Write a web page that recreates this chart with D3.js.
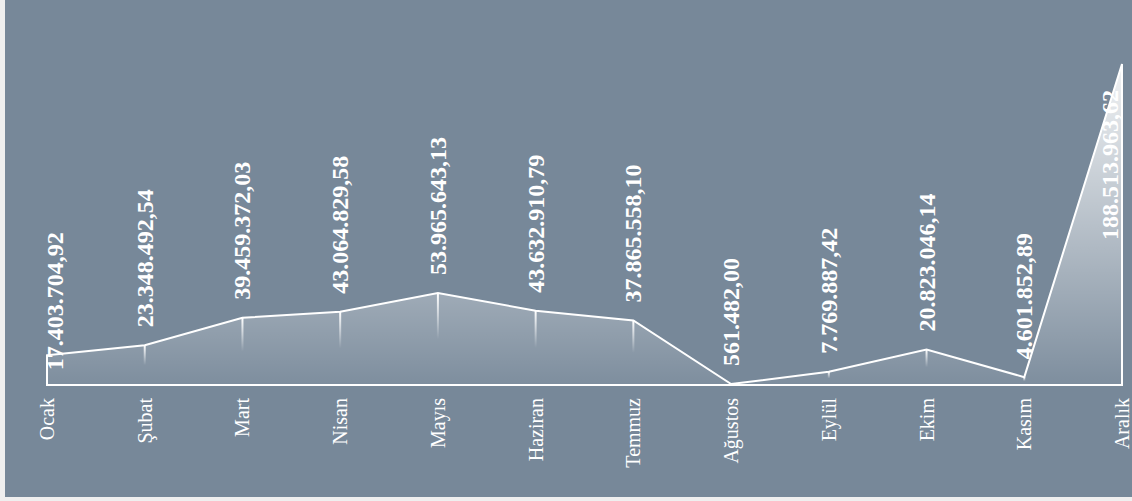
<!DOCTYPE html>
<html>
<head>
<meta charset="utf-8">
<script src="https://cdn.jsdelivr.net/npm/d3@7"></script>
<style>
  body { margin: 0; background: #efefef; }
</style>
</head>
<body>
<div id="chart"></div>
<script>
const months = ['Ocak', 'Şubat', 'Mart', 'Nisan', 'Mayıs', 'Haziran', 'Temmuz', 'Ağustos', 'Eylül', 'Ekim', 'Kasım', 'Aralık']
const values = [17403704.92, 23348492.54, 39459372.03, 43064829.58, 53965643.13, 43632910.79, 37865558.10, 561482.00, 7769887.42, 20823046.14, 4601852.89, 188513963.62]

const width = 1132
const height = 501
const margin = { top: 64, left: 47, right: 10, bottom: 116 }

const fmt = d3.formatLocale({ decimal: ',', thousands: '.', grouping: [3], currency: ['', ''] }).format(',.2f')

const svg = d3.select('#chart')
  .append('svg')
  .attr('width', width)
  .attr('height', height)

svg.append('rect')
  .attr('x', 5)
  .attr('y', 0)
  .attr('width', width - 5)
  .attr('height', height - 4)
  .attr('fill', '#778899')

const x = d3.scalePoint().domain(months).range([margin.left, width - margin.right])
const y = d3.scaleLinear().domain([0, d3.max(values)]).range([height - margin.bottom, margin.top])

const data = months.map((m, i) => ({ month: m, value: values[i] }))

// gradients
const defs = svg.append('defs')
const areaGrad = defs.append('linearGradient')
  .attr('id', 'areaGrad')
  .attr('gradientUnits', 'userSpaceOnUse')
  .attr('x1', 0).attr('x2', 0)
  .attr('y1', y.range()[1]).attr('y2', y.range()[0])
areaGrad.append('stop').attr('offset', '0%').attr('stop-color', '#fff').attr('stop-opacity', 0.9)
areaGrad.append('stop').attr('offset', '100%').attr('stop-color', '#fff').attr('stop-opacity', 0.05)

const dropGrad = defs.append('linearGradient')
  .attr('id', 'dropGrad')
  .attr('x1', 0).attr('x2', 0)
  .attr('y1', 0).attr('y2', 1)
dropGrad.append('stop').attr('offset', '0%').attr('stop-color', '#fff').attr('stop-opacity', 1)
dropGrad.append('stop').attr('offset', '100%').attr('stop-color', '#fff').attr('stop-opacity', 0)

const area = d3.area()
  .x(d => x(d.month))
  .y0(y(0))
  .y1(d => y(d.value))

svg.append('path')
  .datum(data)
  .attr('d', area)
  .attr('fill', 'url(#areaGrad)')

// drop lines
svg.selectAll('.drop')
  .data(data)
  .enter()
  .append('rect')
  .attr('class', 'drop')
  .attr('x', d => x(d.month) - 1)
  .attr('y', d => y(d.value))
  .attr('width', 2)
  .attr('height', d => Math.max(0.01, (y(0) - y(d.value)) / 2))
  .attr('fill', 'url(#dropGrad)')

// outline
svg.append('path')
  .datum(data)
  .attr('d', area)
  .attr('fill', 'none')
  .attr('stroke', '#fff')
  .attr('stroke-width', 2)

// value labels
const labelSize = 24
svg.selectAll('.val')
  .data(data)
  .enter()
  .append('text')
  .attr('class', 'val')
  .text(d => fmt(d.value))
  .attr('font-family', '"Liberation Serif", "Times New Roman", serif')
  .attr('font-weight', 'bold')
  .attr('font-size', labelSize)
  .attr('fill', '#fff')
  .attr('dominant-baseline', 'central')
  .each(function(d, i) {
    const t = d3.select(this)
    const len = this.getComputedTextLength()
    let px = x(d.month)
    px = Math.max(x.range()[0] + 8, Math.min(x.range()[1] - 12, px))
    let start = y(d.value) - 18
    if (i === 0) start = (y(0) + y(d.value)) / 2
    if (start - len < margin.top + 26) start = margin.top + 26 + len
    t.attr('transform', `translate(${px},${start}) rotate(-90)`)
  })

// month labels
svg.selectAll('.cat')
  .data(data)
  .enter()
  .append('text')
  .attr('class', 'cat')
  .text(d => d.month)
  .attr('font-family', '"Liberation Serif", "Times New Roman", serif')
  .attr('font-size', 20)
  .attr('fill', '#fff')
  .attr('text-anchor', 'end')
  .attr('dominant-baseline', 'central')
  .attr('transform', d => `translate(${x(d.month)},${y(0) + 13}) rotate(-90)`)
</script>
</body>
</html>
